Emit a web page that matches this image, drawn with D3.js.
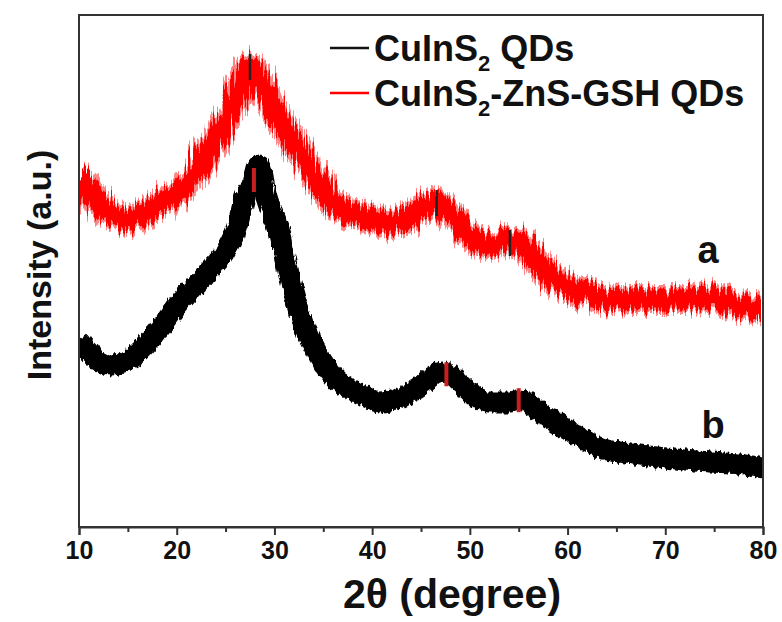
<!DOCTYPE html>
<html>
<head>
<meta charset="utf-8">
<script src="https://cdn.jsdelivr.net/npm/d3@7"></script>
<style>
  html, body { margin: 0; padding: 0; background: #fff; }
  svg { display: block; font-family: "Liberation Sans", Arial, sans-serif; }
</style>
</head>
<body>
<svg id="chart" width="782" height="622"></svg>
<script>
// ---- data ----
const xTicks = [10, 20, 30, 40, 50, 60, 70, 80];
const xMinorTicks = [15, 25, 35, 45, 55, 65, 75];

// curve a : CuInS2-ZnS-GSH QDs (red, offset upward)
const thetaA = [10.0, 10.2, 11.9, 14.7, 16.8, 18.8, 21.2, 22.4, 24.1, 25.8, 27.5, 29.2, 30.9, 32.6, 34.4, 36.2, 38.8, 40.8, 42.9, 44.5, 45.6, 46.6, 48.0, 49.7, 52.1, 54.1, 55.1, 56.5, 58.5, 61.0, 63.3, 66.4, 69.2, 72.0, 74.6, 77.1, 80.0];
const intensityA = [349, 347, 325, 307, 314, 327, 344, 362, 389, 422, 460, 432, 402, 375, 347, 322, 312, 307, 305, 315, 322, 324, 312, 292, 282, 284, 284, 270, 249, 236, 230, 227, 227, 227, 230, 222, 217];

// curve b : CuInS2 QDs (black)
const thetaB = [10.0, 11.6, 13.3, 14.7, 16.0, 18.4, 20.1, 22.9, 24.9, 26.3, 27.0, 27.8, 28.4, 29.1, 30.4, 31.7, 33.1, 34.5, 36.2, 38.8, 40.8, 42.9, 44.9, 47.3, 49.7, 51.8, 54.1, 55.1, 57.2, 59.2, 61.3, 63.3, 66.0, 69.2, 72.0, 74.6, 77.5, 80.0];
const intensityB = [187, 169, 162, 165, 174, 200, 222, 252, 275, 305, 332, 344, 362, 331, 299, 244, 200, 172, 149, 133, 125, 129, 141, 155, 137, 125, 125, 127, 115, 102, 90, 79, 74, 70, 67, 65, 63, 59];

// peak position markers
const peaksA = [27.5, 46.6, 54.1];
const peaksB = [27.9, 47.6, 55.0];

const seriesColors = ["#111111", "#ff0000"];

// ---- layout ----
const svg = d3.select("#chart");
const L = 79, R = 763, T = 15, B = 527;

const x = d3.scaleLinear().domain([10, 80]).range([L, R]);
const y = d3.scaleLinear().domain([0, 512]).range([B, T]);

const defs = svg.append("defs");
const f1 = defs.append("filter").attr("id", "noiseA").attr("x", "-5%").attr("y", "-20%").attr("width", "110%").attr("height", "140%");
f1.append("feTurbulence").attr("type", "fractalNoise").attr("baseFrequency", "0.45 0.015").attr("numOctaves", 2).attr("seed", 3).attr("result", "n");
f1.append("feDisplacementMap").attr("in", "SourceGraphic").attr("in2", "n").attr("scale", 26).attr("xChannelSelector", "R").attr("yChannelSelector", "G");
const f2 = defs.append("filter").attr("id", "noiseB").attr("x", "-5%").attr("y", "-20%").attr("width", "110%").attr("height", "140%");
f2.append("feTurbulence").attr("type", "fractalNoise").attr("baseFrequency", "0.3 0.05").attr("numOctaves", 2).attr("seed", 7).attr("result", "n");
f2.append("feDisplacementMap").attr("in", "SourceGraphic").attr("in2", "n").attr("scale", 8).attr("xChannelSelector", "R").attr("yChannelSelector", "G");

const line = d3.line().x(d => x(d[0])).y(d => y(d[1])).curve(d3.curveMonotoneX);
const dataA = thetaA.map((t, i) => [t, intensityA[i]]);
const dataB = thetaB.map((t, i) => [t, intensityB[i]]);

const clip = defs.append("clipPath").attr("id", "plotclip");
clip.append("rect").attr("x", L).attr("y", T).attr("width", R - L).attr("height", B - T);

const g = svg.append("g").attr("clip-path", "url(#plotclip)");

// red curve (a)
g.append("path").datum(dataA).attr("d", line)
  .attr("fill", "none").attr("stroke", "#ff2020").attr("stroke-width", 28)
  .attr("stroke-linejoin", "round").attr("opacity", 0.55).attr("filter", "url(#noiseA)");
g.append("path").datum(dataA).attr("d", line)
  .attr("fill", "none").attr("stroke", seriesColors[1]).attr("stroke-width", 21)
  .attr("stroke-linejoin", "round").attr("filter", "url(#noiseA)");

// black curve (b)
g.append("path").datum(dataB).attr("d", line)
  .attr("fill", "none").attr("stroke", "#000").attr("stroke-width", 21)
  .attr("stroke-linejoin", "round").attr("filter", "url(#noiseB)");

// interpolate curve value for markers
function valAt(xs, ys, t) {
  const i = d3.bisectLeft(xs, t);
  if (i <= 0) return ys[0];
  if (i >= xs.length) return ys[ys.length - 1];
  const f = (t - xs[i - 1]) / (xs[i] - xs[i - 1]);
  return ys[i - 1] + f * (ys[i] - ys[i - 1]);
}
g.selectAll(".pkA").data(peaksA).enter().append("line")
  .attr("x1", d => x(d)).attr("x2", d => x(d))
  .attr("y1", d => y(valAt(thetaA, intensityA, d)) - 13)
  .attr("y2", d => y(valAt(thetaA, intensityA, d)) + 13)
  .attr("stroke", "#222").attr("stroke-width", 2.5);
g.selectAll(".pkB").data(peaksB).enter().append("line")
  .attr("x1", d => x(d)).attr("x2", d => x(d))
  .attr("y1", d => y(valAt(thetaB, intensityB, d)) - 12)
  .attr("y2", d => y(valAt(thetaB, intensityB, d)) + 12)
  .attr("stroke", "#c8201e").attr("stroke-width", 4);

// frame
svg.append("rect").attr("x", L).attr("y", T).attr("width", R - L).attr("height", B - T)
  .attr("fill", "none").attr("stroke", "#333").attr("stroke-width", 2);

// x axis
const xAxis = d3.axisBottom(x).tickValues(xTicks).tickSize(8).tickPadding(6).tickFormat(d3.format("d"));
const ax = svg.append("g").attr("transform", `translate(0,${B})`).call(xAxis);
ax.select(".domain").attr("stroke", "#333").attr("stroke-width", 2);
ax.selectAll(".tick line").attr("stroke", "#333").attr("stroke-width", 2);
ax.selectAll(".tick text").attr("font-size", 25).attr("font-weight", "bold").attr("fill", "#111")
  .attr("font-family", "'Liberation Sans', Arial, sans-serif");
const axm = svg.append("g").attr("transform", `translate(0,${B})`)
  .call(d3.axisBottom(x).tickValues(xMinorTicks).tickSize(5).tickFormat(""));
axm.select(".domain").remove();
axm.selectAll(".tick line").attr("stroke", "#333").attr("stroke-width", 2);

// axis titles
svg.append("text").attr("x", 452).attr("y", 608).attr("text-anchor", "middle")
  .attr("font-size", 41).attr("font-weight", "bold").attr("fill", "#111").text("2θ (degree)");
svg.append("text").attr("transform", `translate(51,265) rotate(-90)`).attr("text-anchor", "middle")
  .attr("font-size", 34).attr("font-weight", "bold").attr("fill", "#111").text("Intensity (a.u.)");

// legend
const legendRows = [
  { y: 48, color: seriesColors[0], main: "CuInS", sub: "2", rest: " QDs" },
  { y: 93, color: seriesColors[1], main: "CuInS", sub: "2", rest: "-ZnS-GSH QDs" }
];
const lg = svg.append("g");
legendRows.forEach(r => {
  lg.append("line").attr("x1", 330).attr("x2", 369).attr("y1", r.y).attr("y2", r.y)
    .attr("stroke", r.color).attr("stroke-width", 2.5);
  const t = lg.append("text").attr("x", 374).attr("y", r.y + 13)
    .attr("font-size", 36).attr("font-weight", "bold").attr("fill", "#111");
  t.append("tspan").text(r.main);
  t.append("tspan").attr("font-size", 22).attr("dy", 10).text(r.sub);
  t.append("tspan").attr("dy", -10).text(r.rest);
});

// curve labels
svg.append("text").attr("x", 708).attr("y", 263).attr("text-anchor", "middle")
  .attr("font-size", 38).attr("font-weight", "bold").attr("fill", "#111").text("a");
svg.append("text").attr("x", 713).attr("y", 438).attr("text-anchor", "middle")
  .attr("font-size", 38).attr("font-weight", "bold").attr("fill", "#111").text("b");
</script>
</body>
</html>
